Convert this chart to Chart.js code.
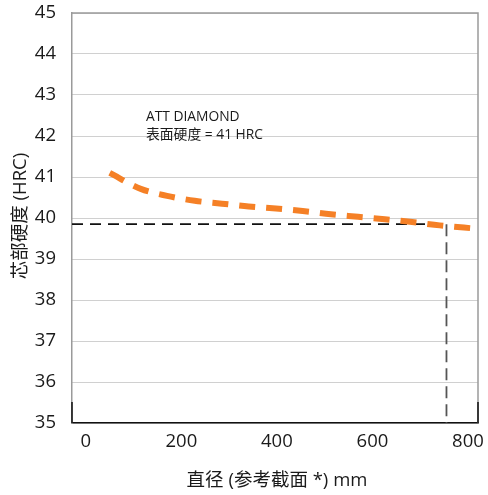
<!DOCTYPE html>
<html>
<head>
<meta charset="utf-8">
<script src="https://cdn.jsdelivr.net/npm/chart.js@4"></script>
<style>
    html, body { margin: 0; padding: 0; background: #fff; }
    #wrap { width: 488px; height: 495px; }
</style>
</head>
<body>
<div id="wrap"><canvas id="hardnessChart" width="488" height="495"></canvas></div>
<script>
// Core hardness vs. diameter
const diameter = [50, 115, 170, 228, 285, 341, 398, 454, 513, 570, 626, 683, 741, 817];
const coreHardness = [41.10, 40.71, 40.54, 40.42, 40.35, 40.28, 40.23, 40.17, 40.09, 40.03, 39.97, 39.90, 39.82, 39.74];

// Reference point marked by the dashed guide lines
const refDiameter = 755;
const refHardness = 39.85;

const xTicks = [0, 200, 400, 600, 800];
const yTicks = [35, 36, 37, 38, 39, 40, 41, 42, 43, 44, 45];
const xMin = -29, xMax = 821;

const xTitle = '直径 (参考截面 *) mm';
const yTitle = '芯部硬度 (HRC)';
const noteLines = ['ATT DIAMOND', '表面硬度 = 41 HRC'];

const FONT = "'Open Sans', 'Noto Sans CJK SC', sans-serif";

const curvePoints = diameter.map((d, i) => ({ x: d, y: coreHardness[i] }));

// extra drawing: frame, axis titles, annotation
const decorPlugin = {
    id: 'decor',
    afterDraw(chart) {
        const ctx = chart.ctx;
        const a = chart.chartArea;
        ctx.save();
        // gray frame top / right
        ctx.strokeStyle = '#9a9a9a';
        ctx.lineWidth = 1.5;
        ctx.beginPath();
        ctx.moveTo(a.left, a.top);
        ctx.lineTo(a.right, a.top);
        ctx.lineTo(a.right, a.bottom);
        ctx.stroke();
        // black corner pieces
        ctx.strokeStyle = '#111';
        ctx.lineWidth = 1.5;
        ctx.beginPath();
        ctx.moveTo(a.left, a.bottom - 21);
        ctx.lineTo(a.left, a.bottom);
        ctx.moveTo(a.right, a.bottom - 21);
        ctx.lineTo(a.right, a.bottom);
        ctx.stroke();

        // axis titles
        ctx.fillStyle = '#1a1a1a';
        ctx.font = '18.5px ' + FONT;
        ctx.textAlign = 'center';
        ctx.textBaseline = 'middle';
        ctx.fillText(xTitle, (a.left + a.right) / 2 + 2, 481);
        ctx.save();
        ctx.translate(21, 216);
        ctx.rotate(-Math.PI / 2);
        ctx.fillText(yTitle, 0, 0);
        ctx.restore();

        // annotation
        ctx.font = '13.8px ' + FONT;
        ctx.textAlign = 'left';
        ctx.fillText(noteLines[0], 146, 117);
        ctx.fillText(noteLines[1], 146, 135);
        ctx.restore();
    }
};

const ctx = document.getElementById('hardnessChart').getContext('2d');
new Chart(ctx, {
    type: 'line',
    data: {
        datasets: [{
            label: 'curve',
            data: curvePoints,
            borderColor: '#f58026',
            borderWidth: 6,
            borderDash: [16, 11],
            borderCapStyle: 'butt',
            cubicInterpolationMode: 'monotone',
            pointRadius: 0,
            fill: false
        }, {
            label: 'refH',
            data: [{ x: xMin, y: refHardness }, { x: refDiameter, y: refHardness }],
            borderColor: '#111',
            borderWidth: 1.6,
            borderDash: [11, 7],
            pointRadius: 0,
            fill: false
        }, {
            label: 'refV',
            data: [{ x: refDiameter, y: refHardness }, { x: refDiameter, y: 35 }],
            borderColor: '#555',
            borderWidth: 1.8,
            borderDash: [12, 6],
            pointRadius: 0,
            fill: false
        }]
    },
    options: {
        responsive: false,
        animation: false,
        layout: { padding: { top: 13, right: 10, left: 0, bottom: 0 } },
        plugins: {
            legend: { display: false },
            tooltip: { enabled: false }
        },
        scales: {
            x: {
                type: 'linear',
                min: xMin,
                max: xMax,
                afterBuildTicks: function (scale) {
                    scale.ticks = xTicks.map(v => ({ value: v }));
                },
                afterFit: function (scale) {
                    scale.height = 72;
                    scale.paddingLeft = 0;
                    scale.paddingRight = 0;
                },
                grid: { display: false, drawTicks: false },
                border: { display: true, color: '#111', width: 1.5 },
                ticks: {
                    padding: 8,
                    color: '#1a1a1a',
                    font: { family: FONT, size: 18.5 },
                    maxRotation: 0
                }
            },
            y: {
                type: 'linear',
                min: 35,
                max: 45,
                afterBuildTicks: function (scale) {
                    scale.ticks = yTicks.map(v => ({ value: v }));
                },
                afterFit: function (scale) {
                    scale.width = 72;
                    scale.paddingTop = 0;
                    scale.paddingBottom = 0;
                },
                grid: {
                    color: '#a0a0a0',
                    lineWidth: 1,
                    drawTicks: false
                },
                border: { display: true, color: '#9a9a9a', width: 1.5, dash: [1, 1] },
                ticks: {
                    padding: 16,
                    color: '#1a1a1a',
                    font: { family: FONT, size: 18.5 }
                }
            }
        }
    },
    plugins: [decorPlugin]
});
</script>
</body>
</html>
